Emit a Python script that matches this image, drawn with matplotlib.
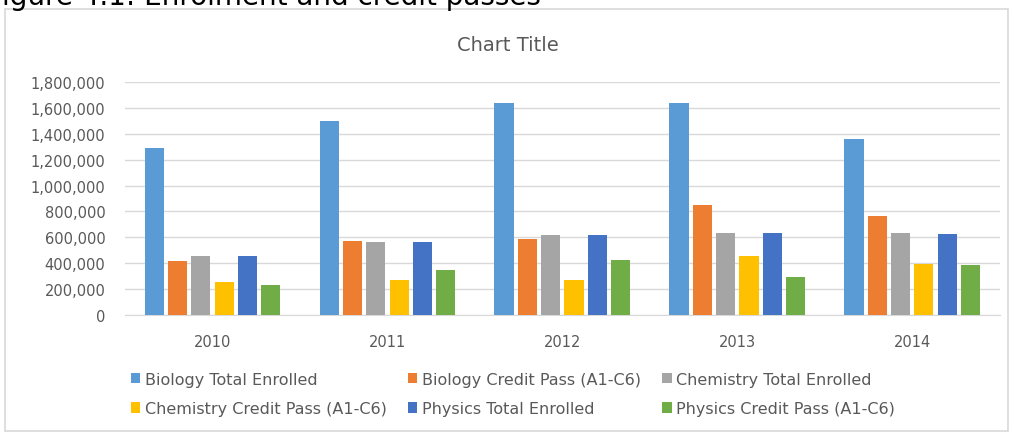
import numpy as np
import matplotlib.pyplot as plt
from matplotlib.patches import Rectangle
from matplotlib.ticker import FuncFormatter

years = ["2010", "2011", "2012", "2013", "2014"]
series_names = [
    "Biology Total Enrolled",
    "Biology Credit Pass (A1-C6)",
    "Chemistry Total Enrolled",
    "Chemistry Credit Pass (A1-C6)",
    "Physics Total Enrolled",
    "Physics Credit Pass (A1-C6)",
]
bio_total = [1290000, 1500000, 1640000, 1640000, 1360000]
bio_pass = [420000, 575000, 585000, 850000, 765000]
chem_total = [455000, 560000, 620000, 635000, 635000]
chem_pass = [258000, 272000, 270000, 455000, 395000]
phys_total = [458000, 560000, 620000, 635000, 628000]
phys_pass = [235000, 350000, 428000, 295000, 385000]

colors = ["#5B9BD5", "#ED7D31", "#A5A5A5", "#FFC000", "#4472C4", "#70AD47"]
values = [bio_total, bio_pass, chem_total, chem_pass, phys_total, phys_pass]

plt.rcParams['font.family'] = ['DejaVu Sans']
fig = plt.figure(figsize=(10.16, 4.35), dpi=100)
ax = fig.add_axes([0.123, 0.2736, 0.861, 0.5356])

x = np.arange(len(years))
pitch = 0.8 / len(values)
bars = []
for i, (vals, name, c) in enumerate(zip(values, series_names, colors)):
    offs = -0.4 + pitch * (i + 0.5)
    bars.append(ax.bar(x + offs, vals, width=pitch * 0.82, color=c,
                       label=name, zorder=3))

ax.set_xlim(-0.5, len(years) - 0.5)
ax.set_ylim(0, 1800000)
ax.set_yticks(np.arange(0, 1800001, 200000))
ax.yaxis.set_major_formatter(FuncFormatter(lambda v, p: f"{int(v):,}"))
ax.set_xticks(x)
ax.set_xticklabels(years)
ax.grid(axis='y', color='#D9D9D9', lw=1, zorder=0)
for s in ['top', 'right', 'left']:
    ax.spines[s].set_visible(False)
ax.spines['bottom'].set_color('#D9D9D9')
ax.tick_params(axis='both', length=0, colors='#595959', labelsize=10.5)
ax.tick_params(axis='x', pad=14)
ax.tick_params(axis='y', pad=14)

fig.text(0.5, 0.895, "Chart Title", ha='center', va='center',
         fontsize=14, color='#595959')

# legend filled row by row, like Excel
order = [0, 3, 1, 4, 2, 5]
leg = fig.legend([bars[i] for i in order], [series_names[i] for i in order],
                 loc='center', bbox_to_anchor=(0.505, 0.092), ncol=3,
                 frameon=False, fontsize=11.5, labelcolor='#595959',
                 handlelength=0.6, handleheight=0.6, handletextpad=0.3,
                 columnspacing=1.3, labelspacing=0.9)

# chart border
fig.patches.append(Rectangle((0.005, 0.008), 0.987, 0.97, transform=fig.transFigure,
                             fill=False, edgecolor='#D9D9D9', lw=1.2))
# caption cut off at the top of the screenshot
fig.text(-0.012, 0.988, "Figure 4.1: Enrolment and credit passes", ha='left',
         va='baseline', fontsize=20, color='black')

fig.savefig("out.png", dpi=100)
